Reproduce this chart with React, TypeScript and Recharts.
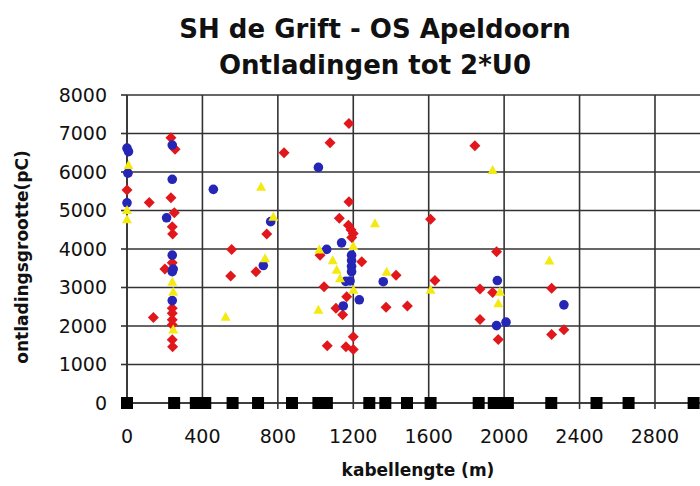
import React from 'react';
import { ScatterChart, Scatter, XAxis, YAxis, CartesianGrid } from 'recharts';

const xTicks = [0, 400, 800, 1200, 1600, 2000, 2400, 2800];
const yTicks = [0, 1000, 2000, 3000, 4000, 5000, 6000, 7000, 8000];

// red markers
const redX = [0, 118, 140, 233, 255, 233, 251, 240, 242, 240, 201, 240, 240, 240, 240, 240, 242,
  555, 550, 684, 741, 833, 1177, 1077, 1177, 1126, 1174, 1188, 1200, 1192, 1024, 1245, 1427,
  1045, 1165, 1108, 1144, 1374, 1487, 1200, 1062, 1161, 1200, 1610, 1633, 1845, 1960, 1872,
  1939, 1872, 1969, 2252, 2317, 2252];
const redY = [5530, 5210, 2220, 6890, 6590, 5330, 4940, 4580, 4390, 3640, 3480, 2460, 2330, 2160, 2030, 1640, 1460,
  3990, 3300, 3410, 4390, 6500, 7260, 6760, 5230, 4800, 4620, 4500, 4400, 4300, 3840, 3670, 3320,
  3020, 2760, 2460, 2290, 2490, 2520, 1720, 1490, 1460, 1390, 4770, 3180, 6680, 3930, 2960,
  2870, 2170, 1650, 2980, 1900, 1780];

// blue markers
const blueX = [0, 8, 5, 0, 240, 240, 210, 240, 240, 245, 240, 458, 723, 762, 1015, 1138, 1059,
  1191, 1191, 1191, 1191, 1183, 1160, 1359, 1232, 1147, 1964, 1960, 2010, 2317];
const blueY = [6620, 6530, 5970, 5200, 6700, 5810, 4810, 3840, 3410, 3480, 2660, 5550, 3570, 4710, 6120, 4160, 3990,
  3840, 3700, 3550, 3410, 3170, 3160, 3150, 2680, 2520, 3180, 2010, 2100, 2550];

// yellow markers
const yellowX = [8, 0, 0, 240, 245, 245, 523, 711, 732, 776, 1315, 1200, 1020, 1091, 1112, 1130,
  1377, 1201, 1015, 1610, 1939, 1978, 1969, 2240];
const yellowY = [6180, 5010, 4770, 3150, 2890, 1910, 2240, 5620, 3760, 4840, 4670, 4080, 3990, 3710, 3460, 3240,
  3410, 2940, 2420, 2940, 6050, 2890, 2590, 3700];

// joints on the cable
const jointX = [0, 250, 365, 415, 560, 695, 875, 1015, 1060, 1285, 1370, 1485, 1610, 1865, 1945, 1985,
  2020, 2250, 2490, 2660, 3005];

const pts = (xs: number[], ys: number[]) => xs.map((x, i) => ({ x, y: ys[i] }));
const redData = pts(redX, redY);
const blueData = pts(blueX, blueY);
const yellowData = pts(yellowX, yellowY);
const jointData = jointX.map((x) => ({ x, y: 0 }));

const font = 'DejaVu Sans';
const gridColor = '#333';

const RedMark = (p: any) => (
  <polygon
    points={`${p.cx},${p.cy - 5.5} ${p.cx + 5.5},${p.cy} ${p.cx},${p.cy + 5.5} ${p.cx - 5.5},${p.cy}`}
    fill="#e2171c"
  />
);
const BlueMark = (p: any) => <circle cx={p.cx} cy={p.cy} r={4.8} fill="#2526b5" />;
const YellowMark = (p: any) => (
  <polygon
    points={`${p.cx},${p.cy - 5} ${p.cx + 5},${p.cy + 4} ${p.cx - 5},${p.cy + 4}`}
    fill="#f3ea12"
  />
);
const JointMark = (p: any) => <rect x={p.cx - 6} y={p.cy - 6} width={12} height={12} fill="#000" />;

const xTitle = () => (
  <text x={418} y={476} textAnchor="middle" fontFamily={font} fontWeight="bold" fontSize={17} fill="#111">
    kabellengte (m)
  </text>
);
const yTitle = () => (
  <text x={27.5} y={257} transform="rotate(-90, 27.5, 257)" textAnchor="middle" fontFamily={font}
    fontWeight="bold" fontSize={17} fill="#111">
    ontladingsgrootte(pC)
  </text>
);

export default function App() {
  const titleStyle: React.CSSProperties = {
    position: 'absolute', left: 0, width: 750, textAlign: 'center',
    fontFamily: font, fontWeight: 'bold', fontSize: 26, lineHeight: '26px', color: '#111',
  };
  return (
    <div style={{ position: 'absolute', left: 0, top: 0, width: 700, height: 486, overflow: 'hidden', background: '#fff' }}>
      <div style={{ ...titleStyle, top: 16 }}>SH de Grift - OS Apeldoorn</div>
      <div style={{ ...titleStyle, top: 52 }}>Ontladingen tot 2*U0</div>
      <ScatterChart width={760} height={486} margin={{ top: 95, right: 29.6, bottom: 33, left: 47 }}>
        <CartesianGrid stroke={gridColor} strokeWidth={1.6} />
        <XAxis
          type="number" dataKey="x" domain={[0, 3200]} ticks={xTicks} interval={0} height={50}
          tickSize={6} tickMargin={21} stroke={gridColor} strokeWidth={1.6}
          tick={{ fontFamily: font, fontSize: 19, fill: '#111' }}
          label={xTitle}
        />
        <YAxis
          type="number" dataKey="y" domain={[0, 8000]} ticks={yTicks} interval={0} width={80}
          tickSize={6} tickMargin={14} stroke={gridColor} strokeWidth={1.6}
          tick={{ fontFamily: font, fontSize: 19, fill: '#111' }}
          label={yTitle}
        />
        <Scatter data={redData} shape={RedMark} isAnimationActive={false} />
        <Scatter data={blueData} shape={BlueMark} isAnimationActive={false} />
        <Scatter data={yellowData} shape={YellowMark} isAnimationActive={false} />
        <Scatter data={jointData} shape={JointMark} isAnimationActive={false} />
      </ScatterChart>
    </div>
  );
}
